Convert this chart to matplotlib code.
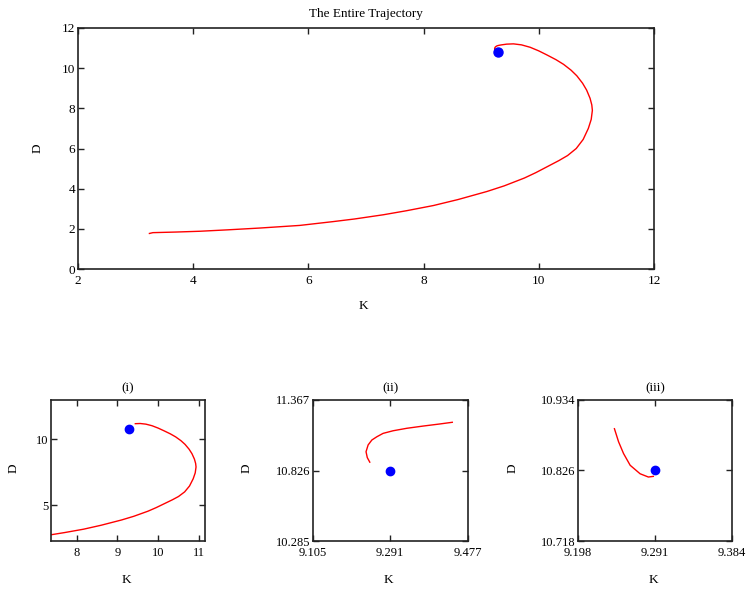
import matplotlib
matplotlib.use("Agg")
import matplotlib.pyplot as plt
import numpy as np

plt.rcParams['font.family'] = ['Liberation Serif', 'DejaVu Serif']

# ---- data (trajectory in time order) ----
K_traj = [9.289, 9.283, 9.273, 9.261, 9.253, 9.247, 9.242,
          9.236, 9.233, 9.238, 9.247, 9.259, 9.274, 9.298, 9.331, 9.370, 9.410, 9.440,
          9.56, 9.70, 9.85, 10.00, 10.14, 10.30, 10.43, 10.56, 10.66, 10.76, 10.83,
          10.89, 10.92, 10.93, 10.91, 10.86, 10.77, 10.65, 10.50, 10.35, 10.15, 9.95,
          9.75, 9.40, 9.10, 8.60, 8.17, 7.70, 7.30, 6.80, 6.43, 5.85, 5.16, 4.60,
          4.12, 3.70, 3.30, 3.24]
D_traj = [10.817, 10.816, 10.821, 10.834, 10.852, 10.870, 10.890,
          10.925, 10.970, 11.022, 11.060, 11.085, 11.111, 11.131, 11.150, 11.167, 11.183, 11.196,
          11.21, 11.16, 11.04, 10.86, 10.66, 10.42, 10.19, 9.90, 9.62, 9.25, 8.91,
          8.50, 8.17, 7.90, 7.45, 7.00, 6.45, 6.00, 5.65, 5.40, 5.10, 4.80,
          4.53, 4.14, 3.86, 3.46, 3.16, 2.90, 2.70, 2.49, 2.36, 2.17, 2.04, 1.95,
          1.88, 1.84, 1.81, 1.77]
K_point = [9.291]
D_point = [10.826]

# time windows for the three zoomed panels (start, stop) index into trajectory
panel_names = ['(i)', '(ii)', '(iii)']
panel_segments = [(17, 56), (6, 18), (0, 7)]
panel_xlims = [(7.37, 11.15), (9.105, 9.477), (9.198, 9.384)]
panel_ylims = [(2.26, 13.0), (10.285, 11.367), (10.718, 10.934)]
panel_xticks = [[8, 9, 10, 11], [9.105, 9.291, 9.477], [9.198, 9.291, 9.384]]
panel_yticks = [[5, 10], [10.285, 10.826, 11.367], [10.718, 10.826, 10.934]]
panel_xticklabels = [['8', '9', '10', '11'], ['9.105', '9.291', '9.477'], ['9.198', '9.291', '9.384']]
panel_yticklabels = [['5', '10'], ['10.285', '10.826', '11.367'], ['10.718', '10.826', '10.934']]

main_xticks = [2, 4, 6, 8, 10, 12]
main_yticks = [0, 2, 4, 6, 8, 10, 12]

K = np.array(K_traj)
D = np.array(D_traj)

fig = plt.figure(figsize=(7.52, 5.92), dpi=100)

FRAME = '#222222'


def style(ax, fs):
    for s in ax.spines.values():
        s.set_color(FRAME)
        s.set_linewidth(1.2)
    ax.tick_params(direction='in', top=True, right=True, length=4, width=1.0,
                   color=FRAME, labelsize=fs, pad=2)
    ax.tick_params(axis='x', pad=4)


# ---- main plot ----
ax = fig.add_axes([78 / 752, (592 - 269) / 592, 576 / 752, 241 / 592])
ax.plot(K, D, color='#ff0000', lw=1.0)
ax.plot(K_point, D_point, 'o', color='#0000ff', ms=6.5, zorder=5)
ax.set_xlim(2, 12)
ax.set_ylim(0, 12)
ax.set_xticks(main_xticks)
ax.set_yticks(main_yticks)
style(ax, 9.5)
ax.set_title('The Entire Trajectory', fontsize=9.5, pad=8)
ax.set_xlabel('K', fontsize=9.5)
ax.set_ylabel('D', fontsize=9.5)
ax.xaxis.set_label_coords(0.495, -0.1535)
ax.xaxis.label.set_va('center')
ax.yaxis.set_label_coords(-0.0694, 0.502)
ax.yaxis.label.set_va('center')
ax.yaxis.label.set_ha('center')

# ---- zoomed panels ----
panel_lefts = [51, 312.7, 578]
panel_widths = [154, 155, 154]
ylabel_x = [-0.245, -0.426, -0.424]
for i, name in enumerate(panel_names):
    a = fig.add_axes([panel_lefts[i] / 752, (592 - 541) / 592,
                      panel_widths[i] / 752, 141 / 592])
    s0, s1 = panel_segments[i]
    a.plot(K[s0:s1], D[s0:s1], color='#ff0000', lw=1.0)
    a.plot(K_point, D_point, 'o', color='#0000ff', ms=6, zorder=5)
    a.set_xlim(*panel_xlims[i])
    a.set_ylim(*panel_ylims[i])
    a.set_xticks(panel_xticks[i])
    a.set_xticklabels(panel_xticklabels[i])
    a.set_yticks(panel_yticks[i])
    a.set_yticklabels(panel_yticklabels[i])
    style(a, 9)
    a.set_title(name, fontsize=9.5, pad=6.5)
    a.set_xlabel('K', fontsize=9.5)
    a.set_ylabel('D', fontsize=9.5)
    a.xaxis.set_label_coords(0.49, -0.277)
    a.xaxis.label.set_va('center')
    a.yaxis.set_label_coords(ylabel_x[i], 0.518)
    a.yaxis.label.set_va('center')
    a.yaxis.label.set_ha('center')

fig.savefig('out.png', dpi=100)
